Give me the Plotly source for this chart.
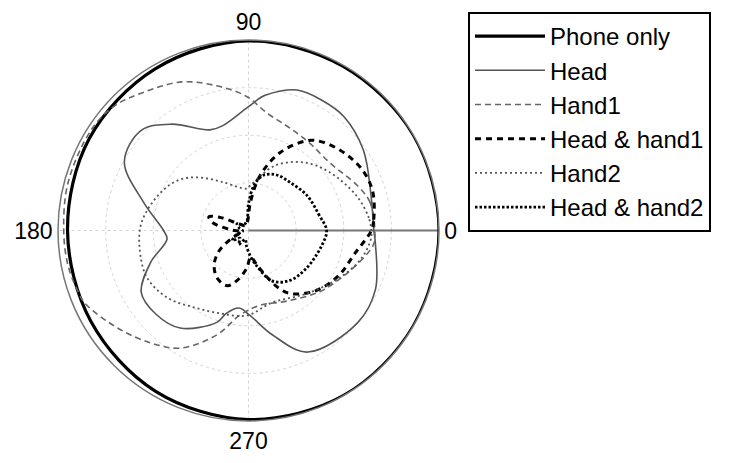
import plotly.graph_objects as go

# angles in degrees, radius normalised to the outer ring
phone_theta = [0, 30, 60, 90, 120, 150, 180, 210, 240, 270, 300, 330, 360]
phone_r = [1.0, 1.0, 0.995, 0.995, 0.98, 0.965, 0.95, 0.955, 0.975, 0.992, 1.0, 1.0, 1.0]

head_theta = [0, 16, 35, 50, 61, 71, 83, 90, 104, 111, 126, 137, 151, 165, 180, 186,
              198, 210, 222, 235, 251, 255, 263, 271, 283, 296, 320, 335, 354, 360]
head_r = [0.658, 0.669, 0.736, 0.78, 0.785, 0.78, 0.715, 0.65, 0.566, 0.566, 0.69, 0.77,
          0.745, 0.57, 0.446, 0.43, 0.54, 0.65, 0.655, 0.625, 0.51, 0.45, 0.41, 0.446,
          0.563, 0.71, 0.75, 0.735, 0.67, 0.658]

hand1_theta = [0, 13, 22, 40, 55, 68, 81, 91, 102, 114, 128, 137, 147, 165, 180, 191,
               200, 204, 217, 229, 240, 253, 264, 278, 300, 323, 353, 360]
hand1_r = [0.663, 0.655, 0.62, 0.555, 0.56, 0.58, 0.624, 0.705, 0.775, 0.854, 0.915,
           0.96, 0.98, 0.98, 0.97, 0.965, 0.95, 0.94, 0.855, 0.782, 0.713, 0.574, 0.448,
           0.398, 0.425, 0.507, 0.658, 0.663]

hh1_theta = [0, 5, 17, 27, 38, 50, 57, 68, 78, 86, 95, 120, 145, 155, 161, 168, 178,
             190, 205, 215, 225, 237, 249, 257, 267, 275, 283, 291, 298, 304, 318, 333,
             348, 360]
hh1_r = [0.645, 0.66, 0.683, 0.679, 0.65, 0.606, 0.562, 0.44, 0.296, 0.15, 0.05, 0.03,
         0.06, 0.16, 0.22, 0.19, 0.09, 0.04, 0.1, 0.19, 0.255, 0.3, 0.31, 0.27, 0.2, 0.14,
         0.18, 0.256, 0.345, 0.4, 0.473, 0.528, 0.572, 0.645]

hand2_theta = [0, 6, 18, 36, 51, 68, 88, 93, 118, 134, 145, 159, 177, 195, 206, 220,
               234, 251, 269, 288, 312, 332, 346, 356, 360]
hand2_r = [0.645, 0.635, 0.595, 0.523, 0.46, 0.367, 0.235, 0.22, 0.288, 0.388, 0.457,
           0.51, 0.566, 0.584, 0.586, 0.552, 0.497, 0.46, 0.446, 0.398, 0.448, 0.536,
           0.61, 0.644, 0.645]

hh2_theta = [0, 12, 31, 49, 63, 75, 83, 90, 100, 130, 150, 165, 185, 200, 212, 222,
             235, 250, 262, 275, 283, 295, 309, 326, 348, 360]
hh2_r = [0.41, 0.38, 0.358, 0.334, 0.327, 0.3, 0.24, 0.14, 0.05, 0.04, 0.07, 0.05, 0.03,
         0.07, 0.1, 0.06, 0.09, 0.05, 0.08, 0.14, 0.19, 0.292, 0.339, 0.362, 0.392, 0.41]

# radial line drawn along 0 degrees
ref_theta = [0, 0]
ref_r = [0, 1]

series = [
    ('Phone only', phone_theta, phone_r, dict(color='black', width=3.2)),
    ('Head', head_theta, head_r, dict(color='#555555', width=1.6)),
    ('Hand1', hand1_theta, hand1_r, dict(color='#666666', width=1.6, dash='6px,4px')),
    ('Head & hand1', hh1_theta, hh1_r, dict(color='black', width=3, dash='6px,5px')),
    ('Hand2', hand2_theta, hand2_r, dict(color='#555555', width=1.8, dash='2px,3px')),
    ('Head & hand2', hh2_theta, hh2_r, dict(color='black', width=2.8, dash='2.5px,2px')),
]

# the page body adds an 8px offset, so the figure is sized to fit inside it
W, H = 723, 455
OFF = 8

fig = go.Figure()

fig.add_trace(go.Scatterpolar(
    r=ref_r, theta=ref_theta, mode='lines', showlegend=False,
    line=dict(color='#777777', width=2), hoverinfo='skip'
))

for name, th, rr, ln in series:
    fig.add_trace(go.Scatterpolar(
        r=rr, theta=th, mode='lines', name=name,
        line=dict(shape='spline', smoothing=1, **ln)
    ))

fig.update_layout(
    width=W, height=H,
    margin=dict(l=0, r=0, t=0, b=0, autoexpand=False),
    paper_bgcolor='white',
    font=dict(family='Liberation Sans, Arial', size=24, color='black'),
    polar=dict(
        domain=dict(x=[(58 - OFF) / W, (439 - OFF) / W],
                    y=[1 - (421 - OFF) / H, 1 - (40 - OFF) / H]),
        bgcolor='white',
        radialaxis=dict(
            range=[0, 1], tickvals=[0.25, 0.5, 0.75], showticklabels=False,
            ticks='', showline=False, gridcolor='#d4d4d4', griddash='dot', gridwidth=1.3
        ),
        angularaxis=dict(
            tickvals=[0, 90, 180, 270], ticktext=['0', '90', '180', '270'],
            direction='counterclockwise', rotation=0, ticks='', ticklen=0,
            showline=True, linecolor='#777777', linewidth=1.5,
            gridcolor='#d4d4d4', griddash='dot', gridwidth=1.3,
            tickfont=dict(size=23)
        ),
    ),
    legend=dict(
        x=(468 - OFF) / W, y=1 - (12 - OFF) / H, xanchor='left', yanchor='top',
        bordercolor='black', borderwidth=2, bgcolor='white',
        font=dict(size=24), itemwidth=70, tracegroupgap=0
    ),
)

fig.write_html("out.html")
